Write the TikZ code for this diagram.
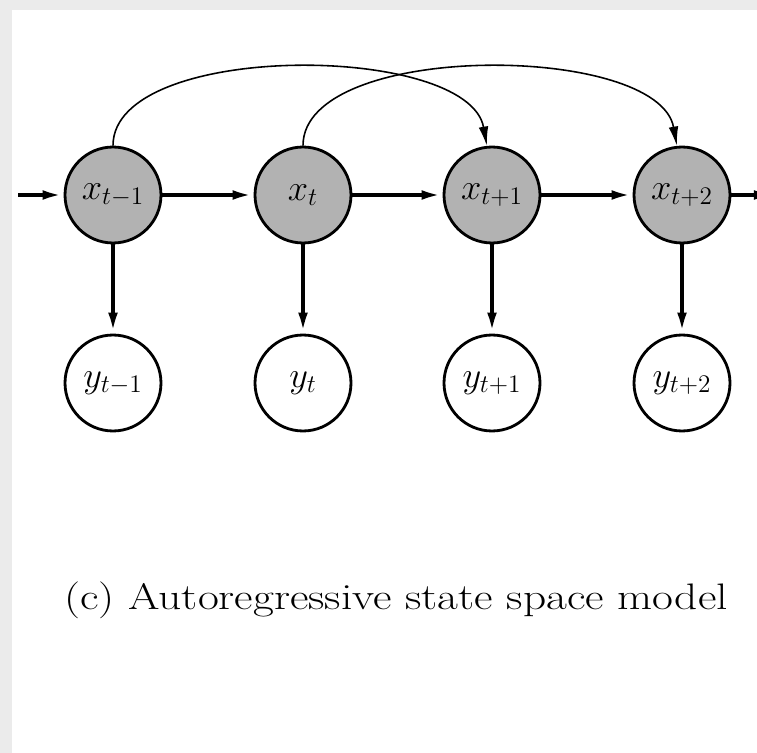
\documentclass[tikz,border=0pt]{standalone}
\usepackage{tikz}
\usetikzlibrary{arrows.meta}

\begin{document}
\begin{tikzpicture}[
    x=0.02cm, y=-0.02cm,
    >=Latex,
    arrow/.style={
        -{Latex[length=12pt,width=5.5pt]},
        line width=2.2pt
    },
    curve/.style={
        -{Latex[length=11pt,width=5.5pt]},
        line width=0.9pt
    },
    latent/.style={ % hidden state
        circle,
        minimum size=1.92cm,
        inner sep=0pt,
        draw,
        fill=black!30,
        line width=1.6pt,
        font=\fontsize{21}{25}\selectfont
    },
    observed/.style={ % observation
        circle,
        minimum size=1.92cm,
        inner sep=0pt,
        draw,
        fill=white,
        line width=1.6pt,
        font=\fontsize{21}{25}\selectfont
    }
]
    \useasboundingbox (0,0) rectangle (757,753);
    \clip (0,0) rectangle (757,753);

    % page edge of the screenshot
    \fill[black!8] (0,0) rectangle (757,10);
    \fill[black!8] (0,0) rectangle (12,753);

    % Hidden states
    \node[latent] (x1) at (113,195) {$x_{t-1}$};
    \node[latent] (x2) at (303,195) {$x_t$};
    \node[latent] (x3) at (492,195) {$x_{t+1}$};
    \node[latent] (x4) at (682,195) {$x_{t+2}$};

    % Observations
    \node[observed] (y1) at (113,383) {$y_{t-1}$};
    \node[observed] (y2) at (303,383) {$y_t$};
    \node[observed] (y3) at (492,383) {$y_{t+1}$};
    \node[observed] (y4) at (682,383) {$y_{t+2}$};

    \coordinate (in) at (18,195);
    \coordinate (out) at (775,195);

    % Chain
    \draw[arrow] (in) -- (x1);
    \draw[arrow] (x1) -- (x2);
    \draw[arrow] (x2) -- (x3);
    \draw[arrow] (x3) -- (x4);
    \draw[arrow] (x4) -- (out);

    % Emissions
    \draw[arrow] (x1) -- (y1);
    \draw[arrow] (x2) -- (y2);
    \draw[arrow] (x3) -- (y3);
    \draw[arrow] (x4) -- (y4);

    % Second order links
    \draw[curve] (x1.north) to[out=90, in=100, looseness=0.72] (x3.96);
    \draw[curve] (x2.north) to[out=90, in=100, looseness=0.72] (x4.96);

    \node[font=\fontsize{21}{25}\selectfont, xscale=1.23, transform shape] (caption) at (396,600) {(c) Autoregressive state space model};

\end{tikzpicture}
\end{document}
